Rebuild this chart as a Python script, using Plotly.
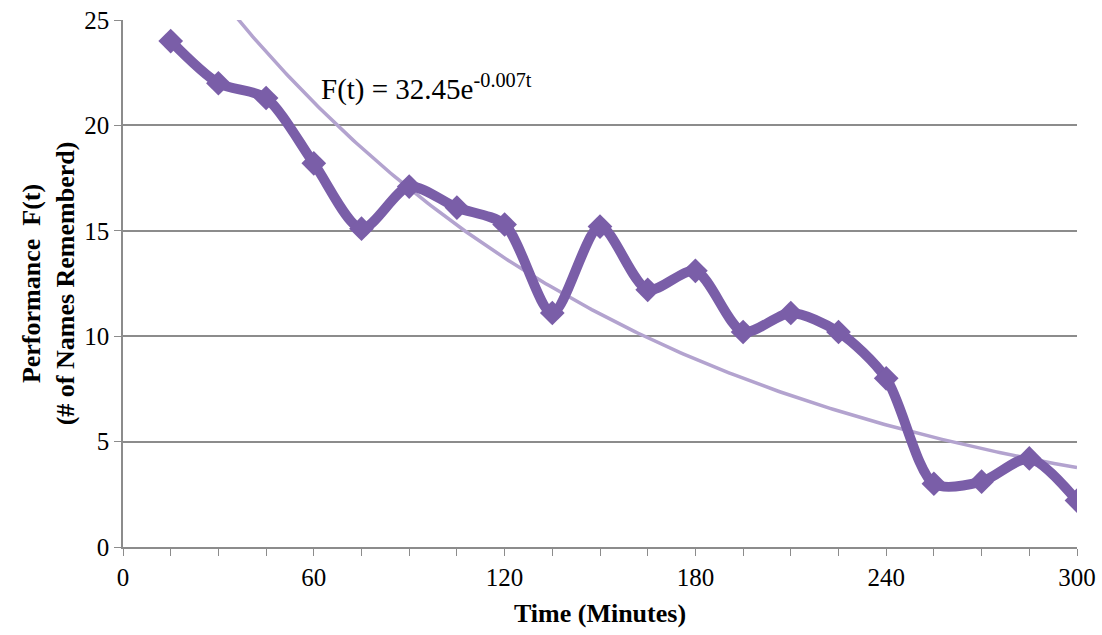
import numpy as np
import plotly.graph_objects as go

# observed performance every 15 minutes
minutes = [15, 30, 45, 60, 75, 90, 105, 120, 135, 150,
           165, 180, 195, 210, 225, 240, 255, 270, 285, 300]
names_remembered = [24, 22, 21.3, 18.2, 15.1, 17.1, 16.1, 15.3, 11.1, 15.2,
                    12.2, 13.1, 10.2, 11.1, 10.2, 8.0, 3.0, 3.1, 4.2, 2.2]

# exponential trendline coefficients (as fitted)
fit_a = 32.45
fit_k = 0.00718
x_ticks = [0, 60, 120, 180, 240, 300]

t_fit = np.linspace(30, 300, 300)
f_fit = fit_a * np.exp(-fit_k * t_fit)

fig = go.Figure()
fig.add_trace(go.Scatter(
    x=t_fit, y=f_fit, mode="lines",
    line=dict(color="#b3a3cf", width=3.5),
    hoverinfo="skip", showlegend=False
))
fig.add_trace(go.Scatter(
    x=minutes, y=names_remembered, mode="lines+markers",
    line=dict(color="#7a5ea8", width=10, shape="spline", smoothing=0.8),
    marker=dict(symbol="diamond", size=19, color="#7a5ea8"),
    showlegend=False
))

fig.add_annotation(
    x=61.5, y=21.8, xref="x", yref="y", xanchor="left", yanchor="middle",
    text="F(t) = 32.45e<sup>-0.007t</sup>", showarrow=False,
    font=dict(family="Liberation Serif", size=29, color="black")
)

fig.update_layout(
    width=1102, height=635,
    margin=dict(l=123, r=25, t=20, b=88),
    paper_bgcolor="white", plot_bgcolor="white",
    font=dict(family="Liberation Serif, serif", size=25, color="black"),
)
fig.update_xaxes(
    range=[0, 300], tickvals=x_ticks, showgrid=False, automargin=False,
    showline=True, linecolor="#8c8c8c", linewidth=1.5,
    ticks="outside", ticklen=7, tickcolor="#8c8c8c",
    minor=dict(dtick=15, ticks="outside", ticklen=7, tickcolor="#8c8c8c"),
    tickfont=dict(size=25),
    title=dict(text="<b>Time (Minutes)</b>", font=dict(size=26), standoff=14),
    zeroline=False,
)
fig.update_yaxes(
    range=[0, 25], dtick=5, showgrid=True, gridcolor="#8c8c8c", gridwidth=1.5,
    automargin=False,
    showline=True, linecolor="#8c8c8c", linewidth=1.5,
    ticks="outside", ticklen=7, tickcolor="#8c8c8c",
    tickfont=dict(size=25),
    title=dict(text="<b>Performance  F(t)<br>(# of Names Rememberd)</b>",
               font=dict(size=26), standoff=2),
    zeroline=False,
)

fig.write_html("out.html", config={"displayModeBar": False},
               post_script="document.body.style.margin='0';")
